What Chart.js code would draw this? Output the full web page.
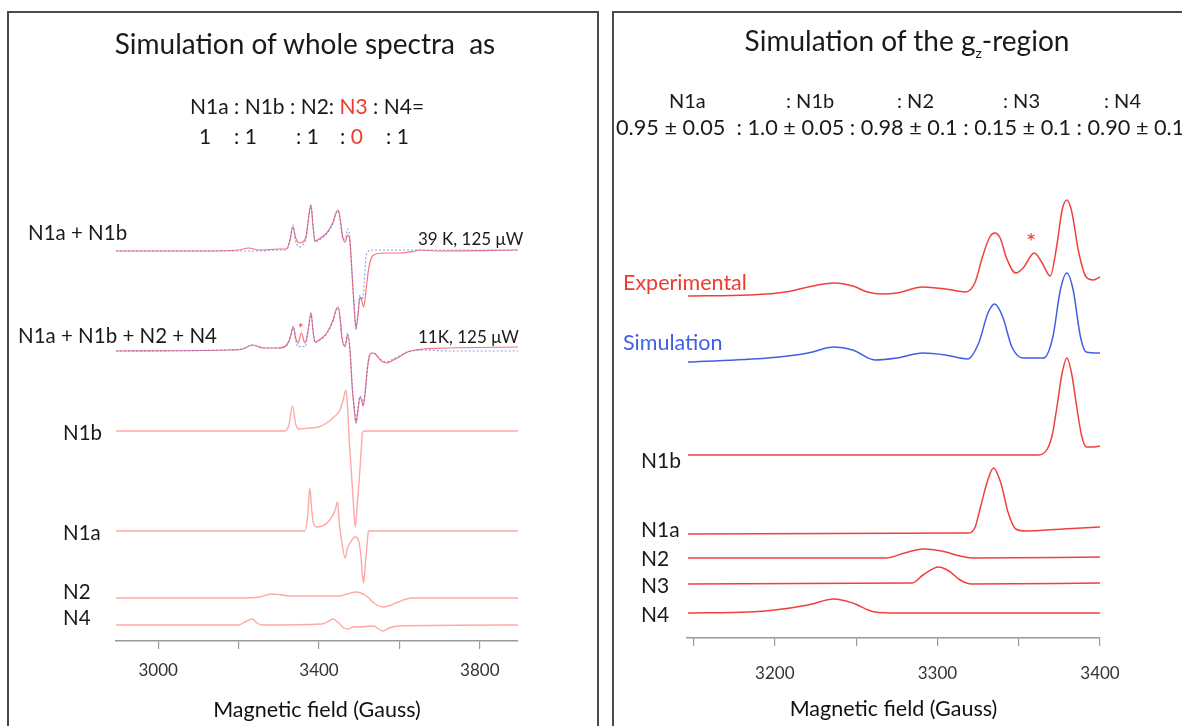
<!DOCTYPE html>
<html>
<head>
<meta charset="utf-8">
<script src="https://cdn.jsdelivr.net/npm/chart.js@4.4.0/dist/chart.umd.min.js"></script>
<style>
  body { margin: 0; width: 1182px; height: 726px; overflow: hidden; background: #fff; font-family: Lato, "Open Sans", sans-serif; color: #1a1a1a; position: relative; }
  .panel { position: absolute; border: 2px solid #4a4a4a; }
  #leftPanel { left: 7px; top: 11px; width: 588px; height: 740px; }
  #rightPanel { left: 612px; top: 11px; width: 620px; height: 740px; }
  canvas { position: absolute; top: 0; }
  .t { position: absolute; white-space: nowrap; line-height: 1; transform: translateY(-50%); }
  .c { transform: translate(-50%, -50%); }
  .red { color: #ee3b2f; }
  .blue { color: #3f5fe8; }
</style>
</head>
<body>
<div class="panel" id="leftPanel"></div>
<div class="panel" id="rightPanel"></div>
<canvas id="whole" width="600" height="726" style="left:0"></canvas>
<canvas id="gz" width="582" height="726" style="left:600px"></canvas>

<!-- left panel text -->
<div class="t c" style="left:305px; top:43px; font-size:28px">Simulation of whole spectra &nbsp;as</div>
<div class="t" style="left:190px; top:105px; font-size:21px">N1a : N1b : N2: <span class="red">N3</span> : N4=</div>
<div class="t" style="left:199px; top:135px; font-size:21px">1</div>
<div class="t" style="left:234px; top:135px; font-size:21px">: 1</div>
<div class="t" style="left:296px; top:135px; font-size:21px">: 1</div>
<div class="t" style="left:340px; top:135px; font-size:21px">: <span class="red">0</span></div>
<div class="t" style="left:386px; top:135px; font-size:21px">: 1</div>
<div class="t" style="left:28px; top:232px; font-size:20.5px">N1a + N1b</div>
<div class="t" style="left:18px; top:335px; font-size:20.5px">N1a + N1b + N2 + N4</div>
<div class="t" style="left:418px; top:238px; font-size:17px">39 K, 125 μW</div>
<div class="t" style="left:418px; top:336px; font-size:17px">11K, 125 μW</div>
<div class="t" style="left:63px; top:432px; font-size:20.5px">N1b</div>
<div class="t" style="left:63px; top:532px; font-size:20.5px">N1a</div>
<div class="t" style="left:63px; top:591px; font-size:20.5px">N2</div>
<div class="t" style="left:63px; top:617px; font-size:20.5px">N4</div>
<div class="t red" style="left:298px; top:328px; font-size:13px">*</div>

<!-- right panel text -->
<div class="t c" style="left:907px; top:43px; font-size:28px">Simulation of the g<sub style="font-size:14px">z</sub>-region</div>
<div class="t" style="left:669px; top:100px; font-size:20px">N1a</div>
<div class="t" style="left:786px; top:100px; font-size:20px">: N1b</div>
<div class="t" style="left:897px; top:100px; font-size:20px">: N2</div>
<div class="t" style="left:1003px; top:100px; font-size:20px">: N3</div>
<div class="t" style="left:1104px; top:100px; font-size:20px">: N4</div>
<div class="t" style="left:616px; top:128px; font-size:21.7px">0.95 ± 0.05 &nbsp;: 1.0 ± 0.05 : 0.98 ± 0.1 : 0.15 ± 0.1 : 0.90 ± 0.1</div>
<div class="t red" style="left:623px; top:283px; font-size:21.5px">Experimental</div>
<div class="t blue" style="left:623px; top:343px; font-size:21.5px">Simulation</div>
<div class="t" style="left:641px; top:459px; font-size:21px">N1b</div>
<div class="t" style="left:641px; top:528px; font-size:21px">N1a</div>
<div class="t" style="left:641px; top:557px; font-size:21px">N2</div>
<div class="t" style="left:641px; top:584px; font-size:21px">N3</div>
<div class="t" style="left:641px; top:613px; font-size:21px">N4</div>
<div class="t red" style="left:1026px; top:241px; font-size:24px">*</div>

<script>
// ---- whole spectra (left) : field in Gauss, signal in arbitrary units ----
const wholeTicks = [3000, 3200, 3400, 3600, 3800];
const wholeTickLabels = [3000, 3400, 3800];

const mix1Field = [2895, 3100, 3200, 3225, 3250, 3300, 3319, 3328, 3335, 3342, 3352, 3360, 3368, 3375, 3380, 3385, 3390, 3400, 3419, 3435, 3443, 3448, 3453, 3459, 3465, 3471, 3476, 3482, 3487, 3492, 3497, 3502, 3507, 3511, 3517, 3523, 3530, 3536, 3560, 3600, 3640, 3650, 3700, 3895];
const mix1Exp = [0, 0, 1, 3, 1, 2, 2, 11, 24, 13, 8, 9, 15, 36, 46, 26, 10, 12, 18, 29, 39, 41, 31, 14, 9, 16, 13, -22, -54, -77, -64, -46, -51, -56, -39, -19, -7, -4, -2, -2, 0, 1, 0, 1];
const mix1Sim = [0, 0, 0, 0, 0, 1, 1, 12, 26, 10, 4, 6, 13, 36, 46, 24, 9, 11, 17, 28, 38, 40, 30, 12, 12, 22, 15, -20, -52, -79, -62, -44, -49, -40, -6, 0, 1, 1, 1, 1, 1, 1, 1, 1];

const mix2Field = [2895, 3176, 3210, 3234, 3262, 3300, 3319, 3328, 3336, 3342, 3348, 3356, 3365, 3373, 3380, 3385, 3390, 3400, 3419, 3435, 3443, 3448, 3453, 3457, 3465, 3471, 3477, 3483, 3488, 3492, 3497, 3502, 3506, 3510, 3515, 3520, 3525, 3532, 3540, 3555, 3568, 3585, 3600, 3620, 3660, 3720, 3895];
const mix2Exp = [0, 1, 2, 6, 3, 3, 6, 13, 24, 13, 8, 18, 8, 21, 38, 21, 9, 11, 18, 31, 42, 44, 31, 14, 4, 16, 1, -39, -59, -72, -59, -46, -49, -55, -41, -19, -6, -2, -3, -10, -12, -9, -6, -1, 2, 3, 4];
const mix2Sim = [0, 1, 2, 6, 3, 3, 5, 13, 25, 11, 4, 5, 4, 20, 38, 21, 8, 10, 17, 30, 41, 43, 30, 12, 6, 18, 2, -37, -58, -72, -57, -45, -48, -53, -40, -18, -5, -2, -3, -9, -11, -8, -5, -1, 1, 0, 0];

const n1bField = [2895, 3315, 3325, 3334, 3342, 3350, 3377, 3400, 3419, 3440, 3452, 3460, 3467, 3471, 3475, 3479, 3485, 3490, 3495, 3500, 3505, 3508, 3512, 3895];
const n1bSig = [0, 0, 6, 25, 7, 2, 3, 4, 8, 15, 21, 31, 41, 24, -9, -32, -69, -96, -74, -49, -19, -2, 0, 0];

const n1aField = [2895, 3365, 3372, 3377, 3382, 3386, 3396, 3427, 3440, 3446, 3451, 3456, 3465, 3471, 3477, 3490, 3498, 3504, 3508, 3511, 3515, 3519, 3523, 3895];
const n1aSig = [0, 0, 16, 43, 21, 8, 4, 11, 21, 29, 6, -9, -27, -17, -12, -6, -9, -24, -44, -52, -34, -16, 0, 0];

const n2Field = [2895, 3200, 3252, 3280, 3300, 3330, 3449, 3470, 3492, 3510, 3521, 3540, 3559, 3580, 3597, 3631, 3895];
const n2Sig = [0, 0, 1, 4, 3.5, 2, 2, 4, 6, 4, 1, -6, -9, -7, -4, 0, 0];

const n4Field = [2895, 3200, 3220, 3234, 3246, 3258, 3406, 3425, 3435, 3449, 3462, 3473, 3485, 3497, 3535, 3545, 3559, 3575, 3597, 3895];
const n4Sig = [0, 0, 4, 6, 2, 0, 1, 4, 6, 2, -3, -4, -2, -2, -1, -3, -6, -3, -1, 0];

// ---- g_z region (right) ----
const gzTicks = [3150, 3200, 3250, 3300, 3350, 3400];
const gzTickLabels = [3200, 3300, 3400];

const expField = [3146.6, 3184, 3207, 3220.5, 3236.5, 3248, 3257, 3266, 3275, 3291, 3305, 3317.4, 3323, 3327.7, 3332.2, 3335.2, 3338.6, 3342.5, 3348.2, 3352.7, 3359.6, 3364.1, 3369.4, 3373.3, 3376.7, 3379.6, 3382.4, 3387, 3391.5, 3396, 3400];
const expSig = [0, 1, 4, 9, 13, 10, 4, 2, 3, 9, 7, 4, 13, 39, 59, 63, 58, 38, 23, 28, 43, 34, 20, 49, 86, 96, 86, 43, 19, 16, 19];

const simField = [3146.6, 3195.5, 3220.5, 3236.5, 3248, 3261.5, 3275, 3291, 3305, 3318.6, 3325.4, 3331.1, 3335.2, 3340.2, 3345.8, 3352.7, 3365.3, 3371, 3375.6, 3379.6, 3383.5, 3388, 3391.5, 3400];
const simSig = [0, 4, 9, 15, 12, 2, 4, 9, 7, 3, 19, 49, 58, 45, 15, 4, 4, 25, 72, 89, 72, 25, 10, 9];

const gzN1bField = [3146.6, 3362, 3367.6, 3370.6, 3373.6, 3376.6, 3379.6, 3382.6, 3385.6, 3388.6, 3391.6, 3395, 3400];
const gzN1bSig = [0, 0, 6, 20, 49, 81, 97, 81, 49, 20, 8, 8, 9];

const gzN1aField = [3146.6, 3318.6, 3323, 3326.5, 3331, 3334.5, 3339, 3343.6, 3348.2, 3354.4, 3377.2, 3400];
const gzN1aSig = [0, 1, 6, 27, 54, 66, 51, 21, 5, 3, 5, 7];

const gzN2Field = [3146.6, 3268.4, 3279.8, 3291, 3302.6, 3314, 3320.9, 3400];
const gzN2Sig = [0, 0, 5, 9, 7, 2, 0, 1];

const gzN3Field = [3146.6, 3284.5, 3291.2, 3300.8, 3307.1, 3314, 3320.9, 3400];
const gzN3Sig = [0, 1, 9, 17, 13, 4, 0, 1];

const gzN4Field = [3146.6, 3184.2, 3200, 3220.5, 3236.5, 3247.9, 3261.5, 3275, 3400];
const gzN4Sig = [0, 1, 3, 8, 14, 10, 1, 0, 0];

// stack each trace on its own baseline
const pts = (fs, ys, off) => fs.map((f, i) => ({ x: f, y: ys[i] + off }));

const FONT = 'Lato, "Open Sans", sans-serif';

function line(data, color, width, dash) {
  return {
    data: data,
    borderColor: color,
    borderWidth: width,
    borderDash: dash || [],
    pointRadius: 0,
    fill: false,
    tension: 0.3,
    cubicInterpolationMode: 'monotone'
  };
}

function makeChart(id, sets, range, ticks, labels, pad, ymax, axisH, tickPad, titlePad) {
  return new Chart(document.getElementById(id), {
    type: 'line',
    data: { datasets: sets },
    options: {
      responsive: false,
      animation: false,
      devicePixelRatio: 1,
      layout: { padding: pad },
      plugins: { legend: { display: false }, tooltip: { enabled: false } },
      scales: {
        x: {
          type: 'linear',
          min: range[0],
          max: range[1],
          afterBuildTicks: s => { s.ticks = ticks.map(v => ({ value: v })); },
          afterFit: s => { s.height = axisH; },
          grid: { drawOnChartArea: false, tickLength: 8, color: '#9a9a9a', lineWidth: 1.2 },
          border: { color: '#9a9a9a', width: 1.5 },
          ticks: {
            autoSkip: false, maxRotation: 0, padding: tickPad, color: '#333',
            font: { family: FONT, size: 17 },
            callback: v => labels.includes(v) ? String(v) : ''
          },
          title: {
            display: true, text: 'Magnetic field (Gauss)', color: '#111',
            font: { family: FONT, size: 21.5 }, padding: { top: 2, bottom: titlePad }
          }
        },
        y: { display: false, min: 0, max: ymax }
      }
    }
  });
}

const redTop = 'rgba(250, 80, 90, 0.8)';
const redLow = 'rgba(255, 110, 110, 0.6)';
const blueDot = 'rgba(90, 110, 235, 0.65)';

makeChart('whole', [
  line(pts(mix1Field, mix1Sim, 390), blueDot, 1.2, [2, 2]),
  line(pts(mix1Field, mix1Exp, 390), redTop, 1.2),
  line(pts(mix2Field, mix2Sim, 290), blueDot, 1.2, [2, 2]),
  line(pts(mix2Field, mix2Exp, 290), redTop, 1.2),
  line(pts(n1bField, n1bSig, 210), redLow, 1.4),
  line(pts(n1aField, n1aSig, 110), redLow, 1.4),
  line(pts(n2Field, n2Sig, 43), redLow, 1.4),
  line(pts(n4Field, n4Sig, 16), redLow, 1.4)
], [2895, 3895], wholeTicks, wholeTickLabels, { left: 116, right: 82, top: 180, bottom: 0 }, 461, 85, 11, 3);

const red = '#f0403e';
const blue = '#3f5fe8';

makeChart('gz', [
  line(pts(expField, expSig, 342), red, 1.5),
  line(pts(simField, simSig, 276), blue, 1.5),
  line(pts(gzN1bField, gzN1bSig, 183), red, 1.5),
  line(pts(gzN1aField, gzN1aSig, 104), red, 1.5),
  line(pts(gzN2Field, gzN2Sig, 80), red, 1.5),
  line(pts(gzN3Field, gzN3Sig, 54), red, 1.5),
  line(pts(gzN4Field, gzN4Sig, 25), red, 1.5)
], [3146, 3400], gzTicks, gzTickLabels, { left: 87, right: 82, top: 180, bottom: 0 }, 458, 88, 17, 4);
</script>
</body>
</html>
